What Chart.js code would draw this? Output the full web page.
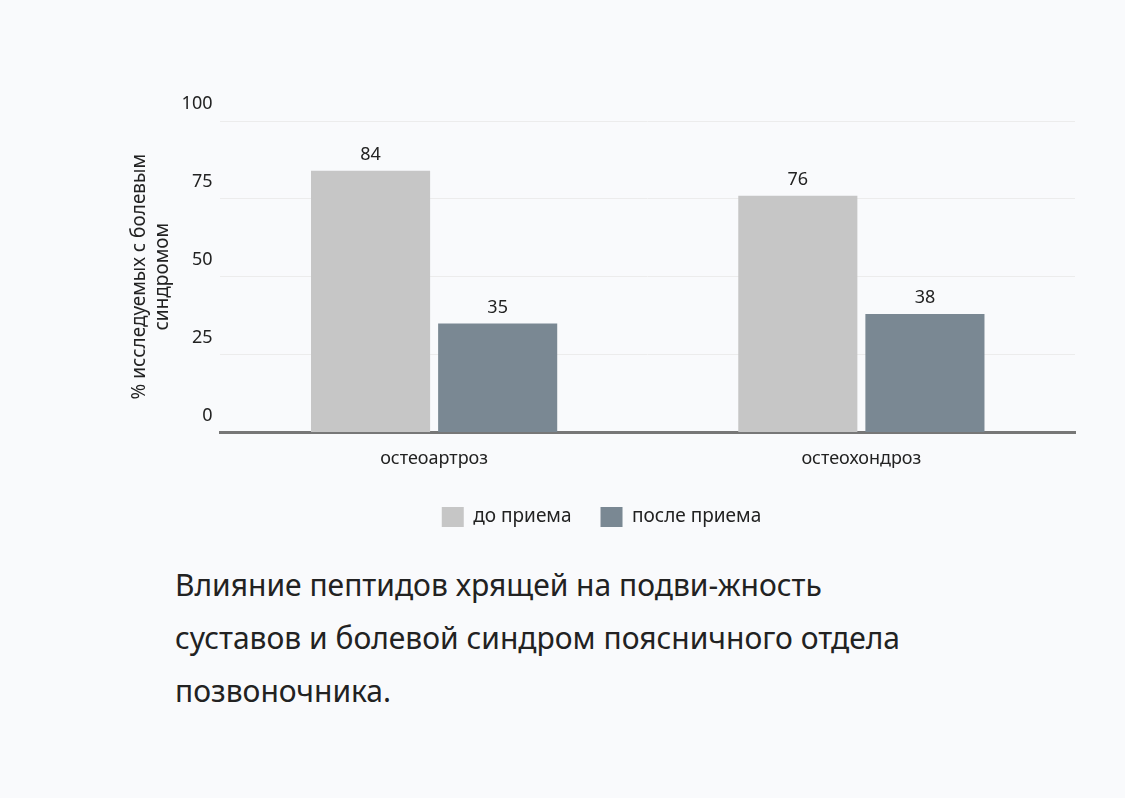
<!DOCTYPE html>
<html><head><meta charset="utf-8">
<script src="https://cdn.jsdelivr.net/npm/chart.js@4/dist/chart.umd.min.js"></script>
<style>
body{margin:0;background:#f9fafc;font-family:"Noto Sans",sans-serif;}
#wrap{position:absolute;left:0;top:0;width:1125px;height:537px;}
#cap{position:absolute;left:175px;top:558px;font-size:30px;line-height:53px;color:#222;width:900px;}
</style></head><body>
<div id="wrap"><canvas id="c"></canvas></div>
<div id="cap">Влияние пептидов хрящей на подви-жность<br>суставов и болевой синдром поясничного отдела<br>позвоночника.</div>
<script>
const categories = ['остеоартроз', 'остеохондроз'];
const before = [84, 76];
const after = [35, 38];
const yTicks = [0, 25, 50, 75, 100];

const valueLabels = {
  id: 'valueLabels',
  afterDatasetsDraw(chart){
    const ctx = chart.ctx;
    ctx.save();
    ctx.font = '18px "Noto Sans"'; ctx.fillStyle = '#222'; ctx.textAlign = 'center'; ctx.textBaseline = 'bottom';
    chart.data.datasets.forEach((ds, i) => {
      chart.getDatasetMeta(i).data.forEach((bar, j) => ctx.fillText(ds.data[j], bar.x, bar.y - 7));
    });
    ctx.restore();
  }
};

new Chart(document.getElementById('c'), {
  type: 'bar',
  data: { labels: categories, datasets: [
    { label: 'до приема', data: before, backgroundColor: '#c6c6c6', barPercentage: 0.937, categoryPercentage: 0.595 },
    { label: 'после приема', data: after, backgroundColor: '#7a8893', barPercentage: 0.937, categoryPercentage: 0.595 }
  ]},
  options: {
    responsive: true, maintainAspectRatio: false, animation: false,
    layout: { padding: { top: 121, right: 50, left: 128, bottom: 0 } },
    plugins: {
      tooltip: { enabled: false },
      legend: { position: 'bottom', labels: { font: { size: 19, family: 'Noto Sans' }, color: '#222', boxWidth: 22, boxHeight: 20, padding: 29 } }
    },
    scales: {
      x: { grid: { display: false }, border: { color: '#777', width: 3 },
           ticks: { font: { size: 18, family: 'Noto Sans' }, color: '#222', padding: 8 } },
      y: { min: 0, max: 100, afterBuildTicks: s => { s.ticks = yTicks.map(v => ({ value: v })); },
           grid: { color: '#ececec', drawTicks: false }, border: { display: false },
           ticks: { font: { size: 18, family: 'Noto Sans' }, color: '#222', labelOffset: -17, padding: 8 },
           title: { display: true, text: ['% исследуемых с болевым', 'синдромом'], font: { size: 19, family: 'Noto Sans' }, color: '#222', padding: 0 } }
    }
  },
  plugins: [valueLabels]
});
</script></body></html>
